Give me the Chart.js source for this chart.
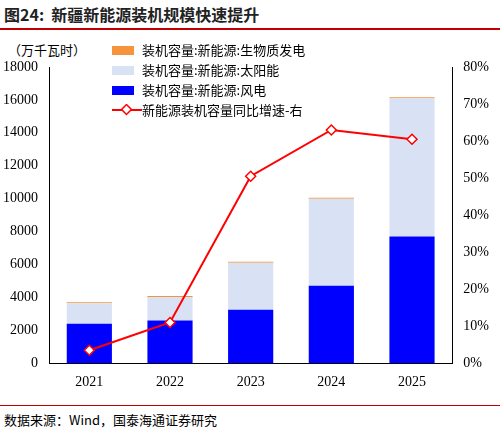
<!DOCTYPE html>
<html><head><meta charset="utf-8">
<script src="https://cdn.jsdelivr.net/npm/chart.js@4"></script>
<style>
body{margin:0;width:500px;height:436px;background:#fff;position:relative;font-family:"Noto Sans CJK SC";overflow:hidden}
#title{position:absolute;left:4px;top:2px;font-size:16px;font-weight:bold;color:#222}
#tline{position:absolute;left:0;top:28px;width:500px;height:2px;background:#c00000}
#unit{position:absolute;left:8px;top:40px;font-size:13px;color:#000}
#src{position:absolute;left:4px;top:410px;font-size:13px;color:#000}
#bline{position:absolute;left:0;top:405px;width:500px;height:1px;background:#c00000}
#legend{position:absolute;left:112px;top:40px;font-size:13px;line-height:20px;color:#000}
.li{display:flex;align-items:center;height:20px}
.sw{width:22px;height:9px;margin-right:8px}
canvas{position:absolute;left:0;top:0}
</style></head><body>
<div id="title">图24:&nbsp;&nbsp;新疆新能源装机规模快速提升</div>
<div id="tline"></div>
<div id="unit">（万千瓦时）</div>
<div style="position:absolute;left:0;top:30px;width:500px;height:364px"><canvas id="c" width="500" height="364"></canvas></div>
<div id="legend">
<div class="li"><span class="sw" style="background:#F5943C"></span>装机容量:新能源:生物质发电</div>
<div class="li"><span class="sw" style="background:#D9E2F5"></span>装机容量:新能源:太阳能</div>
<div class="li"><span class="sw" style="background:#0000FF"></span>装机容量:新能源:风电</div>
<div class="li"><svg width="30" height="12" style="margin-right:0"><line x1="0" y1="6" x2="30" y2="6" stroke="#FF0000" stroke-width="2"/><rect x="11" y="2" width="7" height="7" transform="rotate(45 14.5 5.5)" fill="#fff" stroke="#FF0000" stroke-width="1.5"/></svg>新能源装机容量同比增速-右</div>
</div>
<div id="bline"></div>
<div id="src">数据来源：Wind，国泰海通证券研究</div>
<script>
const years=['2021','2022','2023','2024','2025'];
const wind=[2400,2600,3250,4700,7700];
const solar=[1250,1420,2850,5300,8400];
const bio=[60,60,60,60,60];
const growth=[3.5,11,50.5,63,60.5];
new Chart(document.getElementById('c'),{
data:{labels:years,datasets:[
{type:'line',label:'增速',data:growth,yAxisID:'y1',borderColor:'#FF0000',borderWidth:2,pointStyle:'rectRot',pointRadius:5,pointBackgroundColor:'#fff',pointBorderColor:'#FF0000',pointBorderWidth:1.5,tension:0,order:0},
{type:'bar',label:'风电',data:wind,backgroundColor:'#0000FF',stack:'s',order:1},
{type:'bar',label:'太阳能',data:solar,backgroundColor:'#D9E2F5',stack:'s',order:1},
{type:'bar',label:'生物质',data:bio,backgroundColor:'#F5943C',stack:'s',order:1}
]},
options:{responsive:false,animation:false,
layout:{padding:{left:0,right:8,top:37,bottom:0}},
plugins:{legend:{display:false},tooltip:{enabled:false}},
datasets:{bar:{barPercentage:0.56,categoryPercentage:1}},
scales:{
x:{stacked:true,grid:{display:false},border:{color:'#000'},ticks:{color:'#000',font:{family:'Liberation Serif',size:14}}},
y:{stacked:true,min:0,max:18000,ticks:{stepSize:2000,color:'#000',callback:v=>String(v),font:{family:'Liberation Serif',size:14}},grid:{display:false},border:{color:'#000'}},
y1:{position:'right',min:0,max:80,ticks:{stepSize:10,color:'#000',callback:v=>v+'%',font:{family:'Liberation Serif',size:14}},grid:{display:false},border:{color:'#000'}}
}}
});
</script>
</body></html>
